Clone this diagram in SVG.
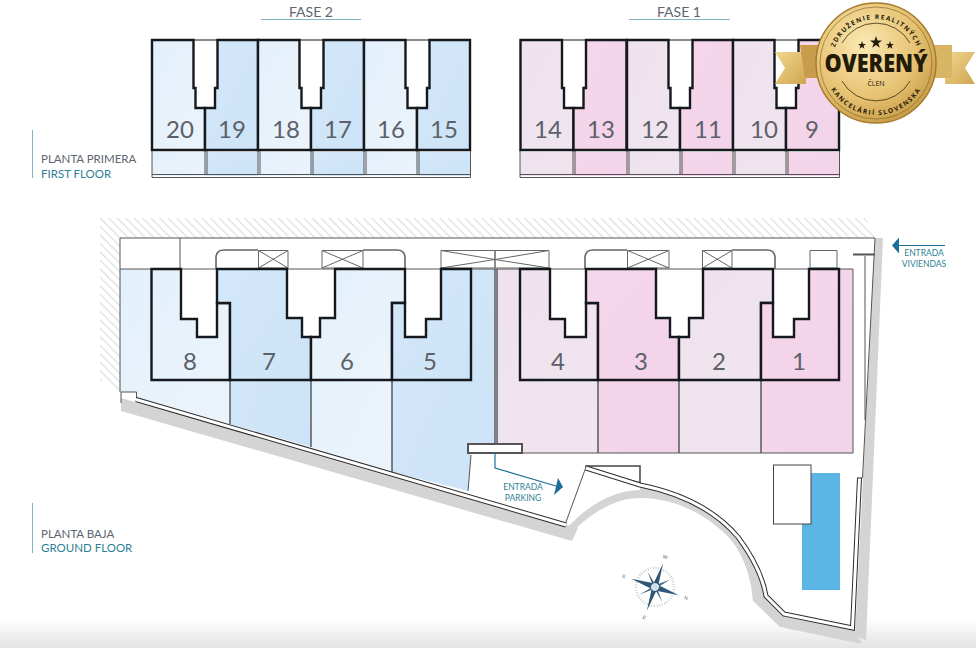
<svg xmlns="http://www.w3.org/2000/svg" xmlns:xlink="http://www.w3.org/1999/xlink" width="976" height="648" viewBox="0 0 976 648">
<style>
.lab{font-family:"Lato","Open Sans","Liberation Sans",sans-serif;font-size:11.5px;fill:#5d6570}
.fase{font-size:14px;text-anchor:middle}
.teal{fill:#2f7f96}
.num{font-family:"Lato","Open Sans","Liberation Sans",sans-serif;font-size:24px;fill:#5c6069;text-anchor:middle}
.ent{font-family:"Lato","Open Sans","Liberation Sans",sans-serif;font-size:8.5px;fill:#2f7f96;text-anchor:middle}
.out{stroke:#15191e;stroke-width:2.4;stroke-linejoin:miter}
.thin{fill:none;stroke:#555;stroke-width:1}
.box{fill:#fff;stroke:#666;stroke-width:1}
.round{fill:none;stroke:#666;stroke-width:1.6}
.bl{fill:url(#gBL)}.bm{fill:url(#gBM)}.pl{fill:url(#gPL)}.pm{fill:url(#gPM)}
.sep{stroke:#555b60;stroke-width:1.5;fill:none}
.wd{fill:none;stroke:#2c2c2c;stroke-width:5;stroke-linejoin:miter}
.ww{fill:none;stroke:#fff;stroke-width:3;stroke-linejoin:miter}
.gold{font-family:"Open Sans","Liberation Sans",sans-serif;fill:#241a08;font-weight:700}
.cl{font-family:"Liberation Sans",sans-serif;font-size:5px;fill:#555;text-anchor:middle}
</style>
<defs>
<linearGradient id="gBL" x1="0" y1="0" x2="1" y2="1"><stop offset="0" stop-color="#e3f0fb"/><stop offset="1" stop-color="#ecf4fb"/></linearGradient>
<linearGradient id="gBM" x1="0" y1="0" x2="1" y2="1"><stop offset="0" stop-color="#d3e8f9"/><stop offset="1" stop-color="#cde3f7"/></linearGradient>
<linearGradient id="gPL" x1="0" y1="0" x2="1" y2="1"><stop offset="0" stop-color="#efe2ed"/><stop offset="1" stop-color="#f0e5ef"/></linearGradient>
<linearGradient id="gPM" x1="0" y1="0" x2="1" y2="1"><stop offset="0" stop-color="#f5d6ea"/><stop offset="1" stop-color="#f3d3e9"/></linearGradient>
<linearGradient id="fade" x1="0" y1="0" x2="0" y2="1"><stop offset="0" stop-color="#fff"/><stop offset="1" stop-color="#e4e4e4"/></linearGradient>
<radialGradient id="coin" cx="0.4" cy="0.35" r="0.8"><stop offset="0" stop-color="#fbe9b4"/><stop offset="0.55" stop-color="#e6c272"/><stop offset="1" stop-color="#b98a34"/></radialGradient>
<linearGradient id="rib" x1="0" y1="0" x2="1" y2="1"><stop offset="0" stop-color="#f2d88f"/><stop offset="1" stop-color="#cfa551"/></linearGradient>
<pattern id="hatch" width="6" height="6" patternUnits="userSpaceOnUse" patternTransform="rotate(-45)"><rect width="6" height="6" fill="#fff"/><rect width="1.2" height="6" fill="#dcdede"/></pattern>
<path id="uL" d="M0,0H41.5V48H43.5V68H53V110H0Z"/>
<path id="uR" d="M53,68H63V48H65.5V0H106V110H53Z"/>
<marker id="arr" markerWidth="7" markerHeight="16" refX="6" refY="8" orient="auto" markerUnits="userSpaceOnUse"><path d="M0,0L7,8L0,16Z" fill="#1d6f99"/></marker>
<path id="arcT" d="M832,63A44,44 0 0 1 920,63"/>
<path id="arcB" d="M824,63A52,52 0 0 0 928,63"/>
</defs>
<rect width="976" height="648" fill="#fff"/>
<rect y="618" width="976" height="30" fill="url(#fade)"/>

<g id="headers">
<text class="lab fase" x="311" y="17">FASE 2</text>
<path d="M261,19.500H361" stroke="#7fb6c6" fill="none"/>
<text class="lab fase" x="679" y="17">FASE 1</text>
<path d="M629,19.500H730" stroke="#7fb6c6" fill="none"/>
</g>
<g id="labels">
<path d="M32.500,130V178M32.500,503V553" stroke="#7fb6c6" fill="none"/>
<text class="lab" x="41" y="163">PLANTA PRIMERA</text>
<text class="lab teal" x="41" y="178">FIRST FLOOR</text>
<text class="lab" x="41" y="538">PLANTA BAJA</text>
<text class="lab teal" x="41" y="552">GROUND FLOOR</text>
</g>

<g id="first-floor-balconies">
<rect x="152" y="152" width="53" height="24" class="bl"/><rect x="205" y="152" width="53" height="24" class="bm"/>
<rect x="258" y="152" width="53" height="24" class="bl"/><rect x="311" y="152" width="53" height="24" class="bm"/>
<rect x="364" y="152" width="53" height="24" class="bl"/><rect x="417" y="152" width="53" height="24" class="bm"/>
<rect x="520" y="152" width="53" height="24" class="pl"/><rect x="573" y="152" width="54" height="24" class="pm"/>
<rect x="627" y="152" width="53" height="24" class="pl"/><rect x="680" y="152" width="53" height="24" class="pm"/>
<rect x="733" y="152" width="53" height="24" class="pl"/><rect x="786" y="152" width="53" height="24" class="pm"/>
<path class="thin" d="M152,150V177.500H470.500V150M152,174.500H470.500M205,150V175M207,150V175M258,150V175M260,150V175M311,150V175M313,150V175M364,150V175M366,150V175M417,150V175M419,150V175"/>
<path class="thin" d="M520,150V177.500H839.500V150M520,174.500H839.500M573,150V175M575,150V175M627,150V175M629,150V175M680,150V175M682,150V175M733,150V175M735,150V175M786,150V175M788,150V175"/>
</g>
<g id="unit-20"><use href="#uL" x="152" y="40" class="bl out"/><text class="num" x="180" y="138">20</text></g>
<g id="unit-19"><use href="#uR" x="152" y="40" class="bm out"/><text class="num" x="232" y="138">19</text></g>
<g id="unit-18"><use href="#uL" x="258" y="40" class="bl out"/><text class="num" x="286" y="138">18</text></g>
<g id="unit-17"><use href="#uR" x="258" y="40" class="bm out"/><text class="num" x="338" y="138">17</text></g>
<g id="unit-16"><use href="#uL" x="364" y="40" class="bl out"/><text class="num" x="391" y="138">16</text></g>
<g id="unit-15"><use href="#uR" x="364" y="40" class="bm out"/><text class="num" x="444" y="138">15</text></g>
<g id="unit-14"><use href="#uL" x="520.500" y="40" class="pl out"/><text class="num" x="548" y="138">14</text></g>
<g id="unit-13"><use href="#uR" x="520.500" y="40" class="pm out"/><text class="num" x="601" y="138">13</text></g>
<g id="unit-12"><use href="#uL" x="627" y="40" class="pl out"/><text class="num" x="655" y="138">12</text></g>
<g id="unit-11"><use href="#uR" x="627" y="40" class="pm out"/><text class="num" x="708" y="138">11</text></g>
<g id="unit-10"><use href="#uL" x="733" y="40" class="pl out"/><text class="num" x="764" y="138">10</text></g>
<g id="unit-9"><use href="#uR" x="733" y="40" class="pm out"/><text class="num" x="812" y="138">9</text></g>
<path d="M193,40H218M299,40H324M405,40H430M562,40H587M668,40H693M774,40H799" stroke="#15191e" stroke-width="1.2"/>

<g id="site">
<path fill="url(#hatch)" d="M100,218H866L875,238H120V392L100,380Z"/>
<path d="M875,238H883L866,640L855,636Z" fill="#d4d4d4"/>
<path fill="#d4d4d4" d="M121,398V411L572,541L578,528Z"/>
<path fill="#d4d4d4" d="M567,538C585,517 612,498 640,498C680,498 712,519 731,540C744,556 751,577 753,601L780,627L862,644L855,630L784,614L766,596C763,578 755,560 738,537C715,510 680,493 640,485V490C612,490 585,508 567,528Z"/>
<path class="bl" d="M120,269H230V424L137,399V392H120Z"/>
<path class="bm" d="M230,269H311V447L230,424Z"/>
<path class="bl" d="M311,269H392V472L311,447Z"/>
<path class="bm" d="M392,269H495V453H471L468,491L392,472Z"/>
<path class="pl" d="M497,269H598V453H497Z"/>
<path class="pm" d="M598,269H679V453H598Z"/>
<path class="pl" d="M679,269H761V453H679Z"/>
<path class="pm" d="M761,269H853V453H761Z"/>
<path fill="#fff" d="M181,269H217V337H197V319H181ZM287,269H335V318H320V337H302V318H287ZM405,269H441V319H426V337H405ZM550,269H586V337H565V319H550ZM656,269H703V318H689V337H670V318H656ZM773,269H809V319H794V337H773Z"/>
<path class="thin" d="M120,392V238H875L862.500,478M180,238V269M120,269H853M853,269V453H522M121,392H136.500V399M121,392V403M865,256V420"/>
<path class="thin" style="stroke-width:2" d="M853,254.500H875"/>
<path class="sep" d="M230,380V424M311,380V447M392,380V472M598,380V453M679,380V453M761,380V453M495,269V444M497,269V444"/>
<path class="thin" d="M468,491L471,455M566,522L586,467"/>
<path fill="#fff" stroke="#444" stroke-width="1.5" d="M586,466H640V483L586,468Z"/>
<path class="wd" d="M136,399.500L566,525"/><path class="ww" d="M136,399.500L566,525"/>
<path class="wd" d="M586,468L640,485C680,493 715,510 738,537C755,560 763,578 766,596L784,614L852.500,628L859.500,478"/>
<path class="ww" d="M586,468L640,485C680,493 715,510 738,537C755,560 763,578 766,596L784,614L852.500,628L859.500,478"/>
<path d="M857,478H862" stroke="#2c2c2c" fill="none"/>
<rect x="468" y="444" width="54" height="9" fill="#fff" stroke="#555" stroke-width="2"/>
</g>

<g id="stairs">
<path class="round" d="M216,269V258Q216,250 224,250H258"/><path class="box" d="M258.500,250.500H288V268H258.500ZM258.500,250.500L288,268M258.500,268L288,250.500"/>
<path class="box" d="M322,250.500H363V268H322ZM322,250.500L363,268M322,268L363,250.500"/><path class="round" d="M363,250H397Q405,250 405,258V269"/>
<path class="box" d="M441,250.500H495V268H441ZM441,250.500L495,259.500L441,268M495,250.500H549V268H495ZM549,250.500L495,259.500L549,268"/>
<path class="round" d="M585,269V258Q585,250 593,250H627"/><path class="box" d="M627.500,250.500H669V268H627.500ZM627.500,250.500L669,268M627.500,268L669,250.500"/>
<path class="box" d="M702.500,250.500H732V268H702.500ZM702.500,250.500L732,268M702.500,268L732,250.500"/><path class="round" d="M732,250H767Q775,250 775,258V269"/>
<path class="box" d="M810,250.500H837V268H810Z"/>
</g>

<g id="unit-8"><path class="bl out" d="M151.500,269H181V319H197V337H217V303H230V380H151.500Z"/><text class="num" x="190" y="370">8</text></g>
<g id="unit-7"><path class="bm out" d="M217,303V269H287V318H302V337H311V380H230V303Z"/><text class="num" x="269" y="370">7</text></g>
<g id="unit-6"><path class="bl out" d="M311,380V337H320V318H335V269H405V303H392V380Z"/><text class="num" x="347" y="370">6</text></g>
<g id="unit-5"><path class="bm out" d="M392,380V303H405V337H426V319H441V269H471V380Z"/><text class="num" x="430" y="370">5</text></g>
<g id="unit-4"><path class="pl out" d="M520,269H550V319H565V337H586V303H598V380H520Z"/><text class="num" x="558" y="370">4</text></g>
<g id="unit-3"><path class="pm out" d="M586,303V269H656V318H670V337H679V380H598V303Z"/><text class="num" x="641" y="370">3</text></g>
<g id="unit-2"><path class="pl out" d="M679,380V337H689V318H703V269H773V303H761V380Z"/><text class="num" x="719" y="370">2</text></g>
<g id="unit-1"><path class="pm out" d="M761,380V303H773V337H794V319H809V269H839V380Z"/><text class="num" x="799" y="370">1</text></g>

<g id="pool">
<rect x="802" y="473" width="38" height="117" fill="#5bb6e6"/>
<rect x="773.500" y="465" width="37.500" height="59" fill="#fff" stroke="#444"/>
</g>

<g id="connectors">
<path d="M945,245.500H893" fill="none" stroke="#1d6f99" stroke-width="1.2" marker-end="url(#arr)"/>
<path d="M495,453V468L556,486" fill="none" stroke="#1d6f99" stroke-width="1.2"/>
<path d="M558,478L563,487L554,495Z" fill="#1d6f99"/>
</g>
<g id="entrances">
<text class="ent" x="924" y="256">ENTRADA</text>
<text class="ent" x="924" y="267">VIVIENDAS</text>
<text class="ent" x="523" y="490">ENTRADA</text>
<text class="ent" x="523" y="501">PARKING</text>
</g>

<g id="compass" transform="translate(655,587) rotate(19)">
<circle r="19" fill="none" stroke="#b9c4c8" stroke-width="2.500" stroke-dasharray="0.800 1.800"/>
<path fill="#2f5675" d="M0,-25L2.500,-3L25,0L2.500,3L0,25L-2.500,3L-25,0L-2.500,-3Z"/>
<path fill="#3f6888" d="M12,-12L2,0L-12,12L0,-2ZM-12,-12L0,-2L12,12L-2,0Z"/>
<circle r="4.500" fill="#cfe0ea" stroke="#2f5675"/>
<text class="cl" x="0" y="-30">W</text>
<text class="cl" x="33" y="2">N</text>
<text class="cl" x="0" y="34">E</text>
<text class="cl" x="-33" y="2">S</text>
</g>

<g id="badge">
<path fill="url(#rib)" d="M775,52H806V84H775L785,68Z"/>
<path fill="#c79c4a" d="M800,45H825V78H805Z"/>
<path fill="url(#rib)" d="M975,52H945V84H975L965,68Z"/>
<path fill="#d8b465" d="M925,45H952V78H930Z"/>
<circle cx="876" cy="63" r="60" fill="url(#coin)" stroke="#a87c2e" stroke-width="1.500"/>
<circle cx="876" cy="63" r="56" fill="none" stroke="#7a5a1e" stroke-width="0.600"/>
<path d="M842,43A39,39 0 0 1 910,43M842,81A39,39 0 0 0 910,81" fill="none" stroke="#3a2a0c" stroke-width="0.800"/>
<text class="gold" font-size="6.500" letter-spacing="1.400"><textPath href="#arcT" startOffset="50%" text-anchor="middle">ZDRUŽENIE REALITNÝCH</textPath></text>
<text class="gold" font-size="6.500" letter-spacing="1.500"><textPath href="#arcB" startOffset="50%" text-anchor="middle">KANCELÁRIÍ SLOVENSKA</textPath></text>
<text class="gold" x="876" y="72" font-size="24" text-anchor="middle" textLength="103" lengthAdjust="spacingAndGlyphs" style="font-weight:800">OVERENÝ</text>
<text x="876" y="86" font-family="Open Sans,sans-serif" font-size="7" fill="#241a08" text-anchor="middle">ČLEN</text>
<path fill="#241a08" d="M876,36L877.500,40.500H882L878.300,43.200L879.800,47.700L876,45L872.200,47.700L873.700,43.200L870,40.500H874.500Z"/>
<path fill="#241a08" d="M862,41L863,44H866L863.600,45.800L864.500,48.800L862,47L859.500,48.800L860.400,45.800L858,44H861Z"/>
<path fill="#241a08" d="M890,41L891,44H894L891.600,45.800L892.500,48.800L890,47L887.500,48.800L888.400,45.800L886,44H889Z"/>
</g>
</svg>
